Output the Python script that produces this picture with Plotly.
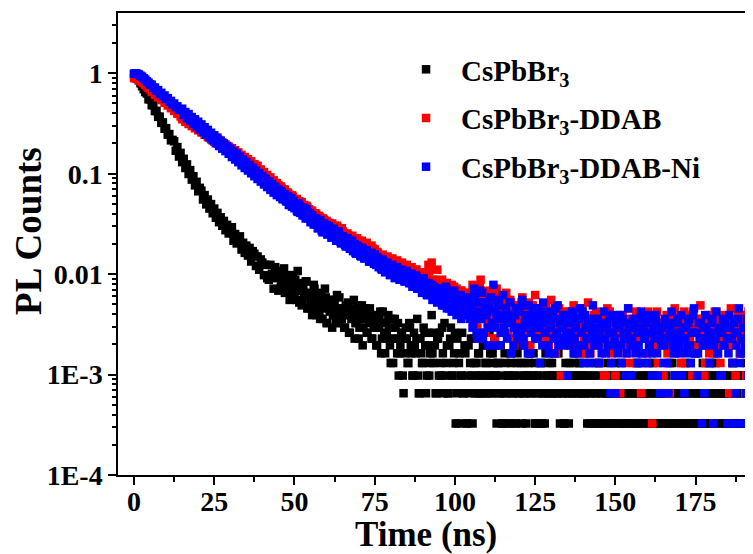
import plotly.graph_objects as go

# Peak-normalisation constant (counts of the highest channel)
PEAK_COUNTS = 3070

# Time channels (ns), main grid
time_ns = [
    0, 0.5, 1, 1.5, 2, 2.5, 3, 3.5, 4, 4.5, 5, 5.5, 6, 6.5, 7, 7.5, 8, 8.5, 9, 9.5,
    10, 10.5, 11, 11.5, 12, 12.5, 13, 13.5, 14, 14.5, 15, 15.5, 16, 16.5, 17, 17.5, 18, 18.5, 19, 19.5,
    20, 20.5, 21, 21.5, 22, 22.5, 23, 23.5, 24, 24.5, 25, 25.5, 26, 26.5, 27, 27.5, 28, 28.5, 29, 29.5,
    30, 30.5, 31, 31.5, 32, 32.5, 33, 33.5, 34, 34.5, 35, 35.5, 36, 36.5, 37, 37.5, 38, 38.5, 39, 39.5,
    40, 40.5, 41, 41.5, 42, 42.5, 43, 43.5, 44, 44.5, 45, 45.5, 46, 46.5, 47, 47.5, 48, 48.5, 49, 49.5,
    50, 50.5, 51, 51.5, 52, 52.5, 53, 53.5, 54, 54.5, 55, 55.5, 56, 56.5, 57, 57.5, 58, 58.5, 59, 59.5,
    60, 60.5, 61, 61.5, 62, 62.5, 63, 63.5, 64, 64.5, 65, 65.5, 66, 66.5, 67, 67.5, 68, 68.5, 69, 69.5,
    70, 70.5, 71, 71.5, 72, 72.5, 73, 73.5, 74, 74.5, 75, 75.5, 76, 76.5, 77, 77.5, 78, 78.5, 79, 79.5,
    80, 80.5, 81, 81.5, 82, 82.5, 83, 83.5, 84, 84.5, 85, 85.5, 86, 86.5, 87, 87.5, 88, 88.5, 89, 89.5,
    90, 90.5, 91, 91.5, 92, 92.5, 93, 93.5, 94, 94.5, 95, 95.5, 96, 96.5, 97, 97.5, 98, 98.5, 99, 99.5,
    100, 100.5, 101, 101.5, 102, 102.5, 103, 103.5, 104, 104.5, 105, 105.5, 106, 106.5, 107, 107.5, 108, 108.5, 109, 109.5,
    110, 110.5, 111, 111.5, 112, 112.5, 113, 113.5, 114, 114.5, 115, 115.5, 116, 116.5, 117, 117.5, 118, 118.5, 119, 119.5,
    120, 120.5, 121, 121.5, 122, 122.5, 123, 123.5, 124, 124.5, 125, 125.5, 126, 126.5, 127, 127.5, 128, 128.5, 129, 129.5,
    130, 130.5, 131, 131.5, 132, 132.5, 133, 133.5, 134, 134.5, 135, 135.5, 136, 136.5, 137, 137.5, 138, 138.5, 139, 139.5,
    140, 140.5, 141, 141.5, 142, 142.5, 143, 143.5, 144, 144.5, 145, 145.5, 146, 146.5, 147, 147.5, 148, 148.5, 149, 149.5,
    150, 150.5, 151, 151.5, 152, 152.5, 153, 153.5, 154, 154.5, 155, 155.5, 156, 156.5, 157, 157.5, 158, 158.5, 159, 159.5,
    160, 160.5, 161, 161.5, 162, 162.5, 163, 163.5, 164, 164.5, 165, 165.5, 166, 166.5, 167, 167.5, 168, 168.5, 169, 169.5,
    170, 170.5, 171, 171.5, 172, 172.5, 173, 173.5, 174, 174.5, 175, 175.5, 176, 176.5, 177, 177.5, 178, 178.5, 179, 179.5,
    180, 180.5, 181, 181.5, 182, 182.5, 183, 183.5, 184, 184.5, 185, 185.5, 186, 186.5, 187, 187.5, 188, 188.5, 189, 189.5,
    190, 190.5, 191, 191.5, 192, 192.5,
]

# Intermediate time channels (ns) in the noisy tail
time_ns_half = [
    45.25, 45.75, 46.25, 46.75, 47.25, 47.75, 48.25, 48.75, 49.25, 49.75, 50.25, 50.75, 51.25, 51.75, 52.25, 52.75, 53.25, 53.75, 54.25, 54.75,
    55.25, 55.75, 56.25, 56.75, 57.25, 57.75, 58.25, 58.75, 59.25, 59.75, 60.25, 60.75, 61.25, 61.75, 62.25, 62.75, 63.25, 63.75, 64.25, 64.75,
    65.25, 65.75, 66.25, 66.75, 67.25, 67.75, 68.25, 68.75, 69.25, 69.75, 70.25, 70.75, 71.25, 71.75, 72.25, 72.75, 73.25, 73.75, 74.25, 74.75,
    75.25, 75.75, 76.25, 76.75, 77.25, 77.75, 78.25, 78.75, 79.25, 79.75, 80.25, 80.75, 81.25, 81.75, 82.25, 82.75, 83.25, 83.75, 84.25, 84.75,
    85.25, 85.75, 86.25, 86.75, 87.25, 87.75, 88.25, 88.75, 89.25, 89.75, 90.25, 90.75, 91.25, 91.75, 92.25, 92.75, 93.25, 93.75, 94.25, 94.75,
    95.25, 95.75, 96.25, 96.75, 97.25, 97.75, 98.25, 98.75, 99.25, 99.75, 100.25, 100.75, 101.25, 101.75, 102.25, 102.75, 103.25, 103.75, 104.25, 104.75,
    105.25, 105.75, 106.25, 106.75, 107.25, 107.75, 108.25, 108.75, 109.25, 109.75, 110.25, 110.75, 111.25, 111.75, 112.25, 112.75, 113.25, 113.75, 114.25, 114.75,
    115.25, 115.75, 116.25, 116.75, 117.25, 117.75, 118.25, 118.75, 119.25, 119.75, 120.25, 120.75, 121.25, 121.75, 122.25, 122.75, 123.25, 123.75, 124.25, 124.75,
    125.25, 125.75, 126.25, 126.75, 127.25, 127.75, 128.25, 128.75, 129.25, 129.75, 130.25, 130.75, 131.25, 131.75, 132.25, 132.75, 133.25, 133.75, 134.25, 134.75,
    135.25, 135.75, 136.25, 136.75, 137.25, 137.75, 138.25, 138.75, 139.25, 139.75, 140.25, 140.75, 141.25, 141.75, 142.25, 142.75, 143.25, 143.75, 144.25, 144.75,
    145.25, 145.75, 146.25, 146.75, 147.25, 147.75, 148.25, 148.75, 149.25, 149.75, 150.25, 150.75, 151.25, 151.75, 152.25, 152.75, 153.25, 153.75, 154.25, 154.75,
    155.25, 155.75, 156.25, 156.75, 157.25, 157.75, 158.25, 158.75, 159.25, 159.75, 160.25, 160.75, 161.25, 161.75, 162.25, 162.75, 163.25, 163.75, 164.25, 164.75,
    165.25, 165.75, 166.25, 166.75, 167.25, 167.75, 168.25, 168.75, 169.25, 169.75, 170.25, 170.75, 171.25, 171.75, 172.25, 172.75, 173.25, 173.75, 174.25, 174.75,
    175.25, 175.75, 176.25, 176.75, 177.25, 177.75, 178.25, 178.75, 179.25, 179.75, 180.25, 180.75, 181.25, 181.75, 182.25, 182.75, 183.25, 183.75, 184.25, 184.75,
    185.25, 185.75, 186.25, 186.75, 187.25, 187.75, 188.25, 188.75, 189.25, 189.75, 190.25, 190.75, 191.25, 191.75, 192.25, 192.75,
]

# CsPbBr3 photon counts (main grid)
counts_cspbbr3 = [
    3000, 2897, 2799, 2612, 2438, 2280, 2133, 1995, 1930, 1690, 1690, 1475, 1480, 1290, 1295, 1130, 1135, 985, 995, 860, 872, 752, 762, 660, 667,
    645, 520, 565, 455, 495, 400, 432, 350, 380, 305, 333, 268, 290, 235, 255, 205, 222,
    208, 170, 188, 152, 170, 138, 153, 124, 138, 112, 125, 101, 113, 93,
    104, 84, 95, 78, 86, 90, 66, 77, 62, 71, 73, 54, 63, 50, 59, 47, 56, 41, 52, 49, 37, 46, 34, 43, 40, 30, 38, 28,
    27, 38, 31, 22, 36, 28, 21, 33, 26, 32, 20, 29, 25, 17, 27, 30, 18, 24, 33, 16,
    21, 16, 20, 26, 14, 19, 17, 12, 24, 15, 13, 18, 11, 16, 14, 22, 10, 15, 13, 17,
    12, 16, 10, 14, 18, 11, 13, 9, 15, 12, 8, 14, 11, 17, 10, 13, 7, 12, 15, 9,
    13, 8, 11, 14, 7, 10, 12, 6, 9, 11, 5, 13, 8, 10, 7, 9, 4, 11, 7, 9, 5, 3,
    6, 8, 2, 5, 7, 4, 9, 5, 3, 6,
    7, 3, 2, 5, 4, 8, 2, 6, 3, 4,
    5, 8, 2, 7, 3, 4, 9, 2, 3, 6,
    2, 7, 3, 4, 8, 2, 1, 5, 3, 2,
    6, 1, 3, 2, 7, 1, 4, 3, 2, 5,
    3, 2, 6, 4, 2, 3, 5, 2, 4, 3,
    1, 4, 2, 3, 1, 5, 2, 3, 1, 4,
    2, 3, 1, 5, 2, 4, 1, 3, 2, 3,
    4, 2, 3, 5, 1, 2, 3, 1, 4, 2,
    1, 3, 2, 4, 3, 2, 5, 3, 2, 3,
    3, 2, 1, 4, 2, 1, 3, 2, 4, 3,
    2, 3, 4, 2, 3, 2, 5, 3, 1, 2,
    1, 3, 2, 1, 4, 2, 1, 3, 2, 1,
    3, 2, 1, 3, 4, 1, 2, 3, 1, 2,
    1, 3, 2, 1, 3, 2, 1, 4, 2, 1,
    3, 1, 2, 3, 2, 4, 1, 2, 3, 1,
    2, 1, 3, 2, 1, 3, 2, 1, 4, 1,
    2, 3, 1, 2, 1, 3, 2, 1, 3, 2,
    1, 4, 2, 1, 3, 2, 1, 2, 3, 1,
    2, 1, 3, 2, 4, 2, 3, 2, 1, 3,
    2, 3, 2, 1, 3, 2, 1, 4, 2, 1,
    3, 1, 2, 3, 1, 2, 1, 3, 2, 1,
]
# CsPbBr3 photon counts (intermediate channels)
counts_cspbbr3_half = [
    31, 23, 29, 35, 20, 26, 24, 30, 19, 22, 27, 17, 25, 21, 15, 23, 19, 26, 14, 20,
    14, 19, 22, 12, 17, 13, 20, 11, 16, 18, 10, 14, 17, 9, 15, 12, 19, 10, 13, 11,
    14, 9, 12, 16, 8, 11, 13, 7, 10, 15, 9, 12, 6, 11, 14, 8, 10, 12, 7, 9,
    11, 6, 9, 13, 7, 10, 5, 8, 12, 6, 9, 4, 11, 7, 10, 5, 8, 3, 7, 9,
    4, 10, 6, 3, 8, 5, 11, 2, 7, 4, 9, 6, 3, 8, 5, 12, 4, 6, 2, 7,
    8, 3, 5, 10, 4, 2, 6, 9, 3, 5, 1, 7, 4, 3, 8, 2, 5, 1, 6, 4,
    3, 7, 2, 4, 5, 2, 3, 6, 2, 4, 3, 8, 2, 5, 3, 3, 4, 2, 6, 1,
    2, 4, 1, 3, 5, 2, 3, 1, 4, 2, 6, 3, 2, 4, 1, 3, 5, 2, 3, 4,
    1, 3, 2, 4, 1, 2, 5, 3, 2, 3, 4, 2, 3, 2, 5, 1, 3, 2, 1, 3,
    2, 4, 3, 2, 5, 3, 2, 4, 3, 2, 3, 2, 1, 4, 2, 3, 1, 2, 4, 1,
    3, 2, 1, 3, 2, 4, 2, 1, 3, 2, 1, 3, 2, 4, 1, 2, 3, 1, 2, 3,
    2, 1, 3, 2, 4, 1, 2, 3, 2, 1, 3, 2, 1, 4, 2, 3, 1, 2, 3, 2,
    1, 3, 2, 1, 2, 4, 1, 3, 2, 2, 1, 3, 2, 4, 2, 1, 3, 2, 1, 3,
    2, 1, 3, 2, 4, 1, 2, 3, 2, 3, 1, 2, 4, 2, 3, 2, 1, 3, 2, 1,
    3, 2, 1, 4, 2, 3, 1, 2, 3, 1, 2, 4, 1, 3, 2, 1,
]

# CsPbBr3-DDAB photon counts (main grid)
counts_ddab = [
    2750, 2732, 2700, 2651, 2591, 2520, 2440, 2358, 2278, 2200, 2125, 2000, 2050, 1880, 1930, 1765, 1810, 1660, 1705, 1560, 1600, 1465, 1505, 1378, 1415, 1295, 1330, 1215, 1250, 1140,
    1070, 1170, 1010, 1110, 960, 1055, 915, 1000, 870, 950, 830, 905, 790, 860, 750, 815, 710, 775, 675, 735, 640, 700, 610, 665, 580, 630, 555, 600, 525, 570,
    490, 550, 465, 525, 440, 500, 420, 472, 400, 450, 380, 428, 362, 408, 338, 382, 318, 368, 298, 338, 280, 318, 264, 298, 248, 282, 233, 264, 219, 248,
    236, 205, 219, 190, 212, 181, 197, 189, 166, 181, 157, 171, 146, 163, 154, 133, 150, 126, 142, 136, 114, 131, 108, 124, 103, 117, 112, 94, 109, 92,
    104, 88, 99, 85, 80, 93, 76, 89, 84, 72, 82, 77, 68, 78, 73, 63, 74, 69, 60, 70, 66, 57, 66, 62, 54, 63, 58, 51, 59, 55,
    54, 43, 50, 47, 41, 48, 44, 39, 46, 42, 37, 44, 40, 35, 42, 38, 33, 40, 36, 32, 38, 34, 30, 36, 33, 29, 34, 31, 27, 32,
    30, 24, 28, 22, 33, 36, 21, 27, 25, 34, 24, 20, 27, 22, 19, 25, 21, 18, 24, 20, 17, 22, 19, 16, 21, 18, 15, 20, 17, 14,
    16, 24, 11, 19, 9, 14, 27, 12, 17, 8, 21, 13, 10, 18, 15, 7, 22, 11, 14, 9, 17, 12, 20, 8, 13, 16, 10, 6, 15, 11,
    9, 14, 18, 7, 12, 10, 16, 6, 13, 11, 19, 8, 14, 10, 10, 12, 9, 15, 7, 11, 17, 8, 13, 5, 10, 14, 3, 12, 6, 11,
    8, 13, 6, 10, 15, 7, 11, 9, 14, 5, 12, 8, 10, 16, 6, 9, 11, 7, 13, 8, 4, 10, 12, 3, 3, 14, 7, 11, 6, 10,
    3, 9, 12, 2, 8, 6, 11, 5, 14, 7, 10, 4, 9, 13, 6, 8, 2, 11, 7, 10, 5, 12, 8, 1, 9, 6, 13, 7, 10, 3,
    3, 8, 12, 6, 2, 10, 7, 14, 5, 9, 11, 4, 8, 13, 6, 10, 7, 12, 3, 9, 5, 11, 8, 15, 6, 10, 4, 9, 12, 7,
    10, 5, 13, 8, 6, 11, 3, 9, 12, 7, 10, 2, 14, 6, 9, 3, 11, 8, 5, 12, 7, 2, 10, 13, 6, 9,
]
# CsPbBr3-DDAB photon counts (intermediate channels)
counts_ddab_half = [
    210, 229, 198, 214, 188, 200, 181, 175, 187, 166, 158, 172, 152, 146, 160, 140, 135, 147, 129, 126,
    131, 112, 108, 122, 102, 115, 98, 110, 106, 92, 101, 96, 86, 98, 91, 82, 93, 85, 78, 88,
    79, 68, 65, 75, 62, 71, 60, 68, 57, 64, 61, 54, 62, 56, 51, 58, 53, 49, 55, 50,
    44, 51, 41, 47, 39, 45, 37, 43, 40, 35, 42, 38, 33, 40, 36, 31, 38, 34, 30, 35,
    35, 28, 32, 26, 30, 34, 25, 29, 27, 23, 31, 26, 29, 38, 24, 40, 27, 22, 25, 21,
    24, 19, 22, 17, 25, 20, 16, 21, 18, 23, 15, 19, 17, 21, 14, 18, 20, 15, 17, 13,
    17, 12, 21, 9, 15, 23, 13, 8, 18, 14, 10, 16, 20, 11, 7, 15, 12, 19, 9, 13,
    10, 15, 8, 12, 17, 11, 7, 13, 9, 14, 10, 16, 8, 11, 13, 6, 12, 9, 15, 10,
    12, 8, 10, 14, 7, 11, 9, 13, 6, 10, 12, 8, 15, 9, 7, 11, 10, 13, 8, 9,
    11, 7, 9, 13, 8, 10, 6, 12, 9, 14, 7, 10, 8, 11, 5, 9, 12, 8, 10, 7,
    9, 6, 11, 8, 10, 7, 13, 5, 9, 8, 11, 6, 10, 7, 12, 8, 4, 9, 10, 7,
    8, 11, 6, 9, 7, 12, 5, 10, 8, 9, 13, 7, 6, 10, 8, 11, 4, 9, 7, 10,
    7, 10, 5, 9, 8, 11, 6, 8, 12, 7, 9, 4, 10, 8, 6, 11, 7, 9, 13, 6,
    9, 6, 8, 11, 7, 3, 10, 8, 5, 9, 12, 7, 8, 6, 10, 4, 9, 7, 11, 8,
    6, 10, 8, 2, 9, 7, 12, 5, 8, 10, 6, 3, 9, 7, 11, 8,
]

# CsPbBr3-DDAB-Ni photon counts (main grid)
counts_ddab_ni = [
    3048, 3070, 3034, 2985, 2905, 2838, 2735, 2656, 2551, 2480, 2380, 2360, 2190, 2215, 2060, 2085, 1930, 1960, 1815, 1845, 1705, 1735, 1600, 1630, 1505, 1535, 1415, 1440, 1330, 1350,
    1360, 1180, 1262, 1095, 1205, 1040, 1125, 965, 1070, 910, 1010, 850, 950, 800, 890, 752, 838, 705, 785, 660, 740, 618, 700, 580, 655, 545, 615, 515, 580, 485,
    545, 450, 512, 425, 485, 400, 455, 372, 425, 350, 400, 330, 375, 310, 352, 290, 330, 272, 310, 256, 292, 240, 274, 226, 258, 212, 243, 199, 228, 188,
    214, 180, 199, 171, 190, 162, 183, 150, 175, 160, 139, 155, 128, 148, 137, 118, 140, 110, 127, 121, 101, 117, 96, 111, 104, 88, 106, 83, 98, 92,
    94, 78, 88, 71, 84, 80, 66, 79, 75, 62, 73, 69, 58, 70, 64, 55, 66, 61, 50, 59, 57, 47, 56, 52, 44, 53, 49, 41, 50, 45,
    48, 38, 44, 41, 35, 43, 37, 33, 40, 36, 31, 38, 34, 29, 36, 32, 28, 34, 30, 26, 33, 28, 25, 31, 27, 23, 29, 26, 22, 27,
    27, 21, 25, 19, 24, 22, 17, 23, 20, 16, 22, 19, 15, 21, 18, 14, 20, 17, 13, 19, 16, 12, 18, 15, 11, 17, 14, 12, 16, 13,
    18, 9, 22, 12, 7, 16, 11, 20, 8, 14, 13, 6, 17, 10, 24, 9, 12, 15, 6, 11, 19, 8, 13, 10, 16, 5, 12, 9, 14, 7,
    13, 8, 17, 6, 11, 9, 15, 5, 10, 12, 7, 14, 9, 4, 11, 16, 8, 10, 6, 13, 9, 12, 5, 8, 15, 7, 11, 9, 6, 12,
    3, 10, 7, 13, 5, 9, 11, 6, 14, 8, 4, 12, 7, 10, 5, 9, 15, 6, 8, 11, 4, 9, 7, 13, 5, 10, 8, 2, 12, 6,
    2, 9, 6, 12, 4, 8, 10, 5, 14, 7, 3, 11, 6, 9, 4, 8, 13, 5, 7, 10, 4, 6, 11, 3, 8, 12, 5, 9, 2, 7,
    4, 11, 7, 2, 9, 13, 6, 3, 8, 10, 5, 12, 7, 2, 9, 6, 11, 4, 8, 14, 5, 3, 10, 7, 1, 9, 12, 6, 8, 4,
    10, 1, 7, 13, 5, 8, 3, 11, 6, 9, 1, 12, 7, 4, 10, 2, 8, 14, 5, 1, 9, 6, 11, 3, 7, 1,
]
# CsPbBr3-DDAB-Ni photon counts (intermediate channels)
counts_ddab_ni_half = [
    189, 206, 172, 193, 167, 181, 150, 175, 144, 165, 147, 132, 155, 125, 141, 130, 117, 136, 110, 124,
    118, 101, 96, 110, 88, 104, 93, 80, 98, 85, 76, 92, 79, 71, 87, 74, 68, 82, 65, 73,
    71, 60, 58, 67, 55, 63, 52, 61, 49, 57, 53, 46, 55, 44, 51, 47, 41, 49, 43, 39,
    39, 45, 36, 42, 34, 40, 32, 38, 35, 30, 37, 33, 28, 35, 31, 27, 33, 29, 26, 31,
    31, 25, 29, 23, 27, 30, 22, 26, 24, 20, 28, 23, 19, 25, 21, 24, 18, 22, 20, 17,
    22, 17, 20, 15, 23, 18, 14, 19, 16, 21, 13, 17, 15, 19, 12, 16, 18, 13, 15, 11,
    15, 10, 19, 8, 13, 21, 11, 7, 16, 12, 9, 14, 18, 10, 6, 13, 11, 17, 8, 12,
    9, 14, 7, 11, 16, 10, 6, 12, 8, 13, 9, 15, 7, 10, 12, 5, 11, 8, 14, 9,
    11, 7, 9, 13, 6, 10, 8, 12, 5, 9, 11, 7, 14, 8, 6, 10, 9, 12, 7, 8,
    10, 6, 8, 12, 7, 9, 5, 11, 8, 13, 6, 9, 7, 10, 4, 8, 11, 7, 9, 6,
    8, 5, 10, 7, 9, 6, 12, 4, 8, 7, 10, 5, 9, 6, 11, 7, 3, 8, 9, 6,
    7, 10, 5, 8, 6, 11, 4, 9, 7, 8, 12, 6, 5, 9, 7, 10, 3, 8, 6, 9,
    6, 9, 4, 8, 7, 10, 5, 7, 11, 6, 8, 3, 9, 7, 5, 10, 6, 8, 12, 5,
    8, 5, 7, 10, 6, 2, 9, 7, 4, 8, 11, 6, 7, 5, 9, 3, 8, 6, 10, 7,
    5, 9, 7, 1, 8, 6, 11, 4, 7, 9, 5, 2, 8, 6, 10, 7,
]

series_names = ["CsPbBr<sub>3</sub>", "CsPbBr<sub>3</sub>-DDAB", "CsPbBr<sub>3</sub>-DDAB-Ni"]
series_colors = ["#000000", "#ff0000", "#0000ff"]
series_counts = [counts_cspbbr3, counts_ddab, counts_ddab_ni]
series_counts_half = [counts_cspbbr3_half, counts_ddab_half, counts_ddab_ni_half]

x_tickvals = [0, 25, 50, 75, 100, 125, 150, 175]
y_tickvals = [1e-4, 1e-3, 1e-2, 1e-1, 1]
y_ticktext = ["1E-4", "1E-3", "0.01", "0.1", "1"]

for c in series_counts:
    assert len(c) == len(time_ns), (len(c), len(time_ns))
for c in series_counts_half:
    assert len(c) == len(time_ns_half), (len(c), len(time_ns_half))

FONT = "Liberation Serif, Times New Roman, serif"

fig = go.Figure()
for name, color, counts, counts_h in zip(series_names, series_colors, series_counts, series_counts_half):
    fig.add_trace(go.Scatter(
        x=time_ns + time_ns_half,
        y=[c / PEAK_COUNTS for c in counts + counts_h],
        mode="markers",
        name=name,
        legendgroup=name,
        marker=dict(symbol="square", size=8.5, color=color, line=dict(width=0)),
    ))

y_minor = [m * 10 ** e for e in range(-4, 1) for m in range(2, 10) if m * 10 ** e <= 3.9]

# The page body has an 8 px default margin, so the figure is 8 px smaller
fig.update_layout(
    width=745, height=546,
    margin=dict(l=110, r=0, t=5, b=79),
    paper_bgcolor="white", plot_bgcolor="white",
    font=dict(family=FONT, color="black"),
    showlegend=True,
    legend=dict(
        x=0.43, y=0.933, xanchor="left", yanchor="top",
        font=dict(family=FONT, size=29, color="black", weight="bold"),
        bgcolor="rgba(0,0,0,0)", itemwidth=60,
        tracegroupgap=8,
    ),
    xaxis=dict(
        range=[-5, 192.9],
        tickmode="array", tickvals=x_tickvals,
        ticks="outside", ticklen=8, tickwidth=1.5, tickcolor="black",
        minor=dict(tickmode="linear", tick0=0, dtick=12.5, ticks="outside", ticklen=5, tickwidth=1.5, tickcolor="black"),
        showline=True, linecolor="black", linewidth=1.5, mirror=True,
        showgrid=False, zeroline=False,
        tickfont=dict(family=FONT, size=28, color="black", weight="bold"),
        ticklabelstandoff=-7,
        automargin=False,
    ),
    yaxis=dict(
        type="log", range=[-4, 0.6],
        tickmode="array", tickvals=y_tickvals, ticktext=y_ticktext,
        ticks="outside", ticklen=8, tickwidth=1.5, tickcolor="black",
        minor=dict(tickmode="array", tickvals=y_minor, ticks="outside", ticklen=4, tickwidth=1.5, tickcolor="black"),
        showline=True, linecolor="black", linewidth=1.5, mirror=False,
        showgrid=False, zeroline=False,
        tickfont=dict(family=FONT, size=28, color="black", weight="bold"),
        automargin=False,
    ),
    annotations=[
        dict(text="Time (ns)", xref="paper", yref="paper", x=0.485, y=-0.128,
             xanchor="center", yanchor="middle", showarrow=False,
             font=dict(family=FONT, size=35, color="black", weight="bold")),
        dict(text="PL Counts", xref="paper", yref="paper", x=-0.142, y=0.528,
             xanchor="center", yanchor="middle", textangle=-90, showarrow=False,
             font=dict(family=FONT, size=37, color="black", weight="bold")),
    ],
)

fig.write_html("out.html")
